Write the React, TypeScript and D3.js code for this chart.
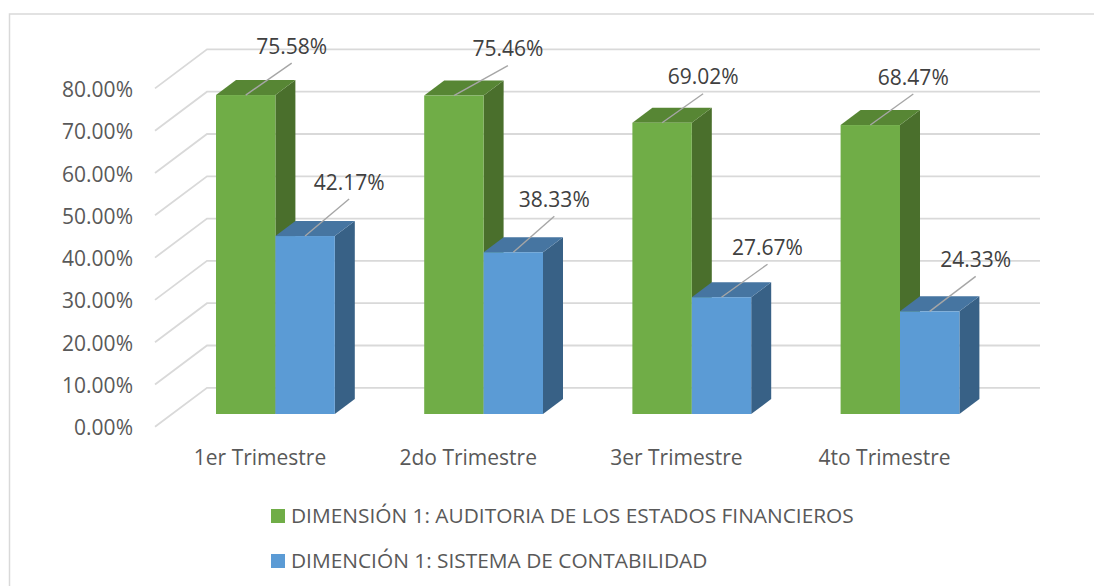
import React from "react";
import * as d3 from "d3";

const categories = ["1er Trimestre", "2do Trimestre", "3er Trimestre", "4to Trimestre"];
const auditoria = [75.58, 75.46, 69.02, 68.47];
const contabilidad = [42.17, 38.33, 27.67, 24.33];
const ticks = [0, 10, 20, 30, 40, 50, 60, 70, 80];
const legendLabels = [
  "DIMENSIÓN 1: AUDITORIA DE LOS ESTADOS FINANCIEROS",
  "DIMENCIÓN 1: SISTEMA DE CONTABILIDAD",
];
// label centre offsets, relative to the top-centre of each bar
const auditoriaLabelOffset = [[46, -49], [54, -47], [41, -46], [43, -48]];
const contabilidadLabelOffset = [[44, -54], [41, -53], [46, -50], [46, -52]];

const FONT = "'Open Sans', sans-serif";
const FS = 21;
const GREEN = { front: "#70ad47", top: "#578634", side: "#4a6f2c", edge: "#8bbd6a" };
const BLUE = { front: "#5b9bd5", top: "#4675a1", side: "#386186", edge: "#75a9da" };

const yFront = d3.scaleLinear().domain([0, 80]).range([414, 76.4]);
const x0 = d3.scaleBand().domain(categories).range([216 - 44.15, 216 - 44.15 + 4 * 208.2]).paddingInner(0).paddingOuter(0);
const BAR_W = 59.4;
const DX = 20;
const DY = -15;
const axisX0 = 155;
const axisY0 = 426.8;
const wallDX = 52;
const wallDY = -39;
const tickStep = 42.3;
const yTick = d3.scaleLinear().domain([0, 80]).range([axisY0, axisY0 - 8 * tickStep]);

function Bar({ x, value, colors, labelOff }: any) {
  const base = yFront(0);
  const top = yFront(value);
  const w = BAR_W;
  const cx = x + w / 2;
  const lx = cx + labelOff[0];
  const ly = top + labelOff[1];
  return (
    <g>
      <polygon points={`${x + w},${top} ${x + w + DX},${top + DY} ${x + w + DX},${base + DY} ${x + w},${base}`} fill={colors.side} />
      <polygon points={`${x},${top} ${x + DX},${top + DY} ${x + w + DX},${top + DY} ${x + w},${top}`} fill={colors.top} />
      <rect x={x} y={top} width={w} height={base - top} fill={colors.front} />
      <line data-leader="1" x1={cx} y1={top} x2={lx} y2={ly + 17} stroke="#a6a6a6" strokeWidth={1.4} />
    </g>
  );
}

function Label({ x, value, labelOff }: any) {
  const top = yFront(value);
  const cx = x + BAR_W / 2;
  return (
    <text x={cx + labelOff[0]} y={top + labelOff[1] + 7.5} textAnchor="middle" fontFamily={FONT} fontSize={FS} fill="#404040">
      {value.toFixed(2)}%
    </text>
  );
}

export default function App() {
  return (
    <svg width={1094} height={586} style={{ position: "fixed", left: 0, top: 0, background: "#fff" }}>
      <path d="M1094,14 L9.5,14 L9.5,586" fill="none" stroke="#d9d9d9" strokeWidth={1.5} />
      {ticks.map((t) => (
        <path
          key={t}
          d={`M${axisX0},${yTick(t)} L${axisX0 + wallDX},${yTick(t) + wallDY} L1040,${yTick(t) + wallDY}`}
          fill="none"
          stroke="#d9d9d9"
          strokeWidth={1.8}
        />
      ))}
      {ticks.map((t) => (
        <text key={t} x={133} y={yTick(t) + 8.5} textAnchor="end" fontFamily={FONT} fontSize={FS} fill="#595959">
          {t.toFixed(2)}%
        </text>
      ))}
      {categories.map((c, i) => {
        const gx = x0(c)! + 44.15;
        return (
          <g key={c}>
            <Bar x={gx} value={auditoria[i]} colors={GREEN} labelOff={auditoriaLabelOffset[i]} />
            <Bar x={gx + BAR_W} value={contabilidad[i]} colors={BLUE} labelOff={contabilidadLabelOffset[i]} />
            <text x={gx + 44} y={465} textAnchor="middle" fontFamily={FONT} fontSize={FS} fill="#595959">
              {c}
            </text>
          </g>
        );
      })}
      {categories.map((c, i) => {
        const gx = x0(c)! + 44.15;
        return (
          <g key={c}>
            <Label x={gx} value={auditoria[i]} labelOff={auditoriaLabelOffset[i]} />
            <Label x={gx + BAR_W} value={contabilidad[i]} labelOff={contabilidadLabelOffset[i]} />
          </g>
        );
      })}
      {legendLabels.map((l, i) => {
        const y = 509 + i * 45;
        return (
          <g key={l}>
            <rect x={271} y={y} width={14} height={14} fill={i === 0 ? GREEN.front : BLUE.front} />
            <text x={291} y={y + 14} fontFamily={FONT} fontSize={20.85} fill="#595959">
              {l}
            </text>
          </g>
        );
      })}
    </svg>
  );
}
